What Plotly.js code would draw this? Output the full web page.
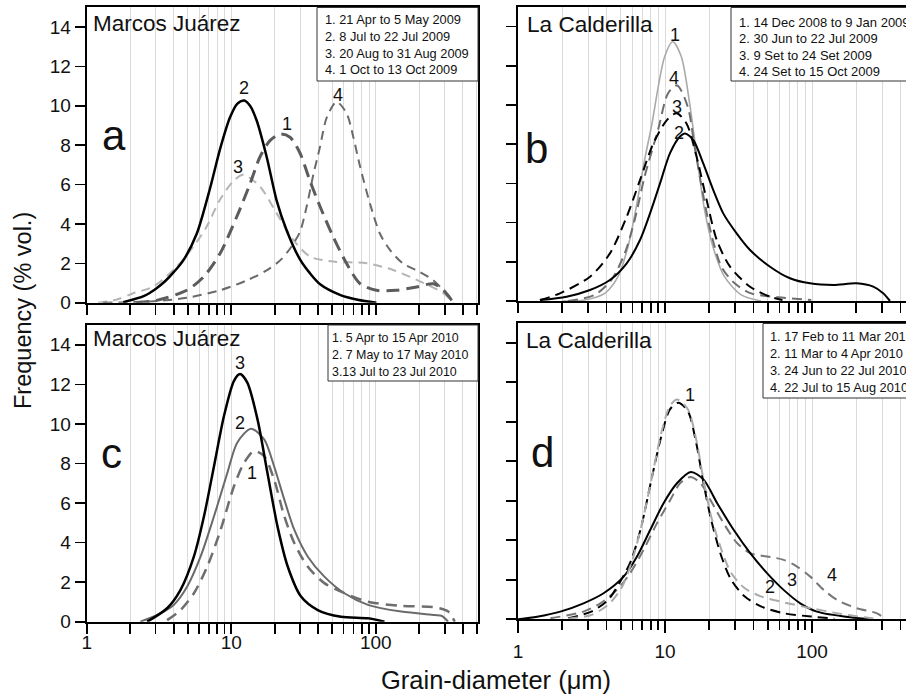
<!DOCTYPE html>
<html>
<head>
<meta charset="utf-8">
<script src="https://cdn.plot.ly/plotly-3.0.1.min.js"></script>
<style>html,body{margin:0;padding:0;overflow:hidden;background:#fff}#chart{width:906px;height:699px}</style>
</head>
<body>
<div id="chart"></div>
<script>
// ---------- DATA (grain diameter in µm, frequency in % vol.) ----------
// Panel a: Marcos Juárez 2009
const a1_d = [2.2, 3.05, 4.92, 6.42, 8.37, 10.9, 13.5, 15.8, 18.6, 21.8, 25.5, 29.9, 35.0, 41.1, 50.9, 63, 78, 101, 139, 192, 251, 294, 345];
const a1_f = [0, 0.12, 0.63, 1.3, 2.5, 4.35, 6.04, 7.4, 8.24, 8.56, 8.4, 7.6, 6.2, 4.9, 3.33, 1.98, 0.96, 0.63, 0.63, 0.8, 0.96, 0.63, 0];
const a2_d = [1.79, 2.5, 3.0, 3.5, 4.0, 4.66, 5.77, 7.13, 8.37, 9.8, 11.0, 12.3, 13.5, 15.0, 17.6, 20.6, 24.2, 29.9, 35, 41, 56.5, 75, 101];
const a2_f = [0.03, 0.35, 0.7, 1.1, 1.55, 2.15, 3.5, 5.8, 7.8, 9.4, 10.1, 10.27, 10.0, 9.25, 7.4, 5.2, 3.67, 2.2, 1.5, 0.95, 0.4, 0.15, 0];
const a3_d = [1.2, 1.6, 2.1, 2.89, 4.2, 5.47, 6.77, 8.36, 10.3, 12.1, 15.8, 20.6, 26.9, 35.1, 50.9, 86.7, 132, 192, 294, 343];
const a3_f = [0, 0.15, 0.48, 0.82, 1.83, 2.85, 3.87, 5.23, 6.16, 6.5, 5.9, 4.55, 3.19, 2.34, 2.09, 2.0, 1.66, 1.16, 0.48, 0];
const a4_d = [1.3, 2.89, 4.92, 8.37, 12.8, 17.6, 21.8, 25.5, 29.9, 33.3, 37, 41.1, 45.9, 53.6, 63, 70, 78, 91.5, 107, 126, 155, 202, 251, 294, 345];
const a4_f = [0, 0.07, 0.25, 0.63, 1.13, 1.64, 2.15, 2.74, 3.6, 4.9, 6.5, 7.9, 9.42, 10.2, 9.6, 8.4, 6.9, 5.0, 3.5, 2.66, 1.98, 1.56, 1.13, 0.63, 0];

// Panel b: La Calderilla 2008-2009
const b1_d = [2.0, 2.84, 3.89, 4.79, 5.6, 6.38, 7.26, 8.08, 9.95, 11.3, 12.9, 14.7, 16.7, 18.6, 21.2, 25.4, 33, 45];
const b1_f = [0, 0.05, 0.39, 1.24, 2.77, 4.81, 7.19, 8.9, 12.47, 13.23, 12.47, 10.1, 7.02, 4.64, 2.77, 1.24, 0.31, 0];
const b2_d = [1.41, 2.14, 3.09, 4.22, 5.49, 6.76, 7.91, 9.25, 10.8, 12.6, 13.7, 15.6, 18.2, 21.3, 24.9, 30.7, 37.9, 51.8, 70.8, 96.9, 140, 201, 261, 305, 339];
const b2_f = [0.05, 0.22, 0.56, 1.07, 1.92, 3.11, 4.47, 6.0, 7.53, 8.38, 8.55, 8.21, 7.02, 5.66, 4.47, 3.45, 2.6, 1.75, 1.16, 0.9, 0.82, 0.9, 0.73, 0.39, 0];
const b3_d = [1.41, 1.93, 3.09, 4.22, 5.49, 6.76, 8.33, 10.3, 12.0, 14.0, 16.4, 19.2, 22.5, 27.7, 37.9, 51.8, 63];
const b3_f = [0.05, 0.39, 1.24, 2.43, 4.3, 6.17, 8.04, 9.23, 9.58, 9.06, 7.36, 5.15, 3.11, 1.75, 0.73, 0.22, 0.05];
const b4_d = [2.19, 3.32, 4.31, 5.32, 6.22, 7.26, 8.96, 10.5, 12.1, 14.3, 15.9, 18.1, 20.6, 24.2, 29.8, 38.6, 58.7, 98.9];
const b4_f = [0, 0.31, 1.07, 2.43, 4.13, 6.34, 8.72, 10.6, 11.0, 9.9, 7.87, 5.49, 3.45, 1.75, 0.9, 0.39, 0.19, 0.05];

// Panel c: Marcos Juárez 2010
const c1_d = [3.6, 4.46, 5.52, 6.83, 8.45, 10.45, 12.3, 14.4, 16.9, 19.8, 23.3, 27.3, 33.8, 44.1, 60.7, 88.3, 150, 256, 317, 352];
const c1_f = [0.08, 0.59, 1.44, 2.79, 4.65, 6.85, 8.04, 8.63, 8.37, 7.19, 5.33, 3.98, 2.79, 1.95, 1.44, 1.01, 0.8, 0.73, 0.51, 0];
const c2_d = [2.35, 3.07, 4.0, 4.96, 6.14, 7.6, 9.41, 11.0, 13.7, 16.9, 19.8, 23.3, 27.3, 33.8, 44.1, 60.7, 88.3, 150, 256, 285, 317];
const c2_f = [0, 0.34, 0.85, 1.78, 3.3, 5.33, 7.53, 9.05, 9.76, 9.22, 7.86, 6.17, 4.65, 3.3, 2.28, 1.44, 0.85, 0.51, 0.34, 0.3, 0];
const c3_d = [2.62, 3.6, 4.46, 5.52, 6.48, 7.6, 8.91, 10.45, 11.5, 12.9, 15.2, 17.8, 20.9, 24.6, 30.4, 39.7, 57.6, 88.3, 115];
const c3_f = [0, 0.68, 1.61, 3.3, 5.33, 7.86, 10.4, 12.18, 12.52, 12.1, 10.23, 7.53, 4.82, 2.79, 1.27, 0.59, 0.25, 0.17, 0];

// Panel d: La Calderilla 2010
const d1_d = [2.19, 3.15, 4.1, 5.04, 5.9, 6.9, 8.08, 9.44, 10.8, 12.1, 14.3, 16.3, 18.1, 20.6, 24.2, 28.2, 34.9, 45.3, 65, 98.6, 150, 228, 282];
const d1_f = [0.03, 0.22, 0.73, 1.57, 2.84, 4.7, 7.07, 9.44, 10.8, 11.13, 10.63, 9.1, 7.24, 5.21, 3.52, 2.34, 1.57, 1.15, 0.85, 0.56, 0.3, 0.1, 0];
const d2_d = [2.19, 3.15, 4.1, 5.04, 5.9, 6.9, 8.08, 9.44, 10.8, 12.3, 14.3, 16.3, 18.1, 20.6, 24.2, 28.2, 34.9, 45.3, 65, 98.6, 142];
const d2_f = [0.05, 0.39, 0.98, 2.0, 3.0, 4.7, 7.07, 9.27, 10.63, 10.96, 10.54, 8.93, 7.07, 5.04, 3.18, 2.0, 1.15, 0.64, 0.3, 0.14, 0.03];
const d3_d = [1.0, 1.35, 1.94, 2.79, 3.82, 5.23, 6.45, 7.94, 9.8, 12.1, 15.0, 18.3, 22.6, 29.3, 38.0, 49.4, 64.1, 83.2, 108, 182, 260];
const d3_f = [0, 0.13, 0.39, 0.81, 1.32, 2.16, 3.18, 4.53, 5.89, 6.9, 7.46, 7.07, 5.89, 4.53, 3.35, 2.34, 1.49, 0.81, 0.39, 0.1, 0];
const d4_d = [1.66, 2.79, 3.63, 4.71, 5.8, 7.15, 8.83, 10.9, 12.7, 14.9, 17.4, 20.3, 25.0, 30.9, 38.0, 49.4, 64.1, 79, 97.3, 120, 148, 202, 277, 310];
const d4_f = [0.05, 0.39, 0.81, 1.49, 2.34, 3.52, 4.87, 6.06, 6.9, 7.2, 6.9, 6.06, 4.87, 3.86, 3.35, 3.18, 3.01, 2.67, 2.16, 1.49, 0.98, 0.56, 0.3, 0.05];

// Tick labels
const yTicks = [0, 2, 4, 6, 8, 10, 12, 14];
const xMajor = [1, 10, 100];
const xMajorText = ['1', '10', '100'];
const xMinor = [2, 3, 4, 5, 6, 7, 8, 9, 20, 30, 40, 50, 60, 70, 80, 90, 200, 300, 400, 500];

// Legend texts
const legA = ['1. 21 Apr to 5 May 2009', '2. 8 Jul to 22 Jul 2009', '3. 20 Aug to 31 Aug 2009', '4. 1 Oct to 13 Oct 2009'];
const legB = ['1. 14 Dec 2008 to 9 Jan 2009', '2. 30 Jun to 22 Jul 2009', '3. 9 Set to 24 Set 2009', '4. 24 Set to 15 Oct 2009'];
const legC = ['1. 5 Apr to 15 Apr 2010', '2. 7 May to 17 May 2010', '3.13 Jul to 23 Jul 2010'];
const legD = ['1. 17 Feb to 11 Mar 2010', '2. 11 Mar to 4 Apr 2010', '3. 24 Jun to 22 Jul 2010', '4. 22 Jul to 15 Aug 2010'];

// ---------- BUILD ----------
const W = 906, H = 699;
const FONT = 'Liberation Sans, Arial, Helvetica, sans-serif';
const px = v => v / W;
const py = v => 1 - v / H;

function tr(d, f, ax, color, width, dash) {
  return {x: d, y: f, xaxis: 'x' + ax, yaxis: 'y' + ax, type: 'scatter', mode: 'lines',
    line: {color: color, width: width, dash: dash || 'solid', shape: 'spline', smoothing: 0.8},
    hoverinfo: 'skip', showlegend: false};
}

const traces = [
  tr(a3_d, a3_f, '', '#b4b4b4', 2, '9px,6px'),
  tr(a4_d, a4_f, '', '#6a6a6a', 2, '9px,6px'),
  tr(a1_d, a1_f, '', '#5c5c5c', 3, '13px,7px'),
  tr(a2_d, a2_f, '', '#000000', 2.5),
  tr(b1_d, b1_f, '2', '#aaaaaa', 1.6),
  tr(b4_d, b4_f, '2', '#6e6e6e', 2, '10px,6px'),
  tr(b3_d, b3_f, '2', '#000000', 2, '10px,6px'),
  tr(b2_d, b2_f, '2', '#000000', 2),
  tr(c2_d, c2_f, '3', '#6a6a6a', 2),
  tr(c1_d, c1_f, '3', '#6e6e6e', 2.5, '11px,7px'),
  tr(c3_d, c3_f, '3', '#000000', 2.5),
  tr(d4_d, d4_f, '4', '#777777', 2, '10px,6px'),
  tr(d3_d, d3_f, '4', '#000000', 2),
  tr(d2_d, d2_f, '4', '#000000', 2, '10px,6px'),
  tr(d1_d, d1_f, '4', '#aaaaaa', 2, '10px,6px')
];

function xax(domain, range, labels, anchor, standoff, majLen, minLen) {
  return {type: 'log', range: range, domain: domain, anchor: anchor,
    tickmode: 'array', tickvals: xMajor, ticktext: xMajorText, showticklabels: labels,
    ticks: 'outside', ticklen: majLen, tickwidth: 1.6, tickcolor: '#000',
    ticklabelstandoff: standoff,
    tickfont: {family: FONT, size: 19, color: '#111'},
    showline: true, linewidth: 2, linecolor: '#000', mirror: true,
    showgrid: true, gridcolor: '#dadada', gridwidth: 1, zeroline: false,
    minor: {tickmode: 'array', tickvals: xMinor, ticks: 'outside', ticklen: minLen, tickwidth: 1.6, tickcolor: '#000',
      showgrid: true, gridcolor: '#dadada', gridwidth: 1}};
}
function yax(domain, labels, anchor, mirror) {
  return {range: [0, 15], domain: domain, anchor: anchor,
    tickmode: 'array', tickvals: yTicks, showticklabels: labels,
    ticks: 'outside', ticklen: 10, tickwidth: 1.6, tickcolor: '#000',
    tickfont: {family: FONT, size: 19, color: '#111'},
    showline: true, linewidth: 2, linecolor: '#000', mirror: mirror,
    showgrid: false, zeroline: false};
}

const leftDom = [86.7 / W, 478 / W];
const rightDom = [518 / W, 1];
const leftRange = [0, Math.log10(510)];
const rightRange = [0, 388 / 147];

const ann = [];
const shapes = [];
function txt(x, y, s, size, anchor, extra) {
  ann.push(Object.assign({xref: 'paper', yref: 'paper', x: px(x), y: py(y), text: s, showarrow: false,
    xanchor: anchor || 'left', yanchor: 'middle', font: {family: FONT, size: size, color: '#111'}}, extra || {}));
}
function lab(ax, d, f, s) {
  ann.push({xref: 'x' + ax, yref: 'y' + ax, x: Math.log10(d), y: f, text: s, showarrow: false,
    xanchor: 'center', yanchor: 'middle', font: {family: FONT, size: 18, color: '#111'}});
}
function legend(x0, y0, x1, y1, tx, ys, lines, size) {
  shapes.push({type: 'rect', xref: 'paper', yref: 'paper', x0: px(x0), x1: px(x1), y0: py(y1), y1: py(y0),
    fillcolor: '#ffffff', line: {color: '#333', width: 1}, layer: 'above'});
  lines.forEach((s, i) => txt(tx, ys[i], s, size, 'left'));
}

// site names & panel letters
txt(91, 23.5, 'Marcos Juárez', 22.5);
txt(91, 338.5, 'Marcos Juárez', 22.5);
txt(525, 25, 'La Calderilla', 22.6);
txt(524, 341, 'La Calderilla', 22.6);
txt(100, 135, 'a', 42);
txt(523, 148, 'b', 42);
txt(99, 454, 'c', 42);
txt(529, 452, 'd', 42);

// legends
legend(317, 7.5, 478, 81, 323, [20, 36.5, 53, 69.5], legA, 12.8);
legend(731, 7.5, 930, 81, 737, [22.5, 38.8, 55.2, 71.6], legB, 13);
legend(328, 325, 478, 381, 330, [337.5, 354.5, 371.5], legC, 12.4);
legend(763, 323.5, 930, 398, 768, [336.8, 353.5, 370.5, 387.3], legD, 12.8);

// curve labels
lab('', 12.3, 10.9, '2'); lab('', 24.2, 9.05, '1'); lab('', 11.2, 6.9, '3'); lab('', 54.6, 10.57, '4');
lab('2', 11.75, 13.57, '1'); lab('2', 11.5, 11.36, '4'); lab('2', 12.0, 9.88, '3'); lab('2', 12.5, 8.55, '2');
lab('3', 11.5, 13.1, '3'); lab('3', 11.5, 10.03, '2'); lab('3', 14.0, 7.53, '1');
lab('4', 14.7, 11.33, '1'); lab('4', 52, 1.62, '2'); lab('4', 73.1, 2.0, '3'); lab('4', 137, 2.25, '4');

// axis titles
txt(23, 311, 'Frequency (% vol.)', 23.5, 'center', {textangle: -90});
txt(496, 680, 'Grain-diameter (μm)', 25.5, 'center');

const layout = {
  width: W, height: H, margin: {l: 0, r: 0, t: 0, b: 0},
  paper_bgcolor: '#fff', plot_bgcolor: '#fff', showlegend: false,
  xaxis: xax(leftDom, leftRange, false, 'y', 0, 10, 10),
  yaxis: yax([1 - 302.7 / H, 1 - 7.3 / H], true, 'x', true),
  xaxis2: xax(rightDom, rightRange, false, 'y2', 0, 10, 10),
  yaxis2: yax([1 - 301 / H, 1 - 7 / H], false, 'x2', false),
  xaxis3: xax(leftDom, leftRange, true, 'y3', -8, 10, 10),
  yaxis3: yax([1 - 621.7 / H, 1 - 325 / H], true, 'x3', true),
  xaxis4: xax(rightDom, rightRange, true, 'y4', 2, 12, 9),
  yaxis4: yax([1 - 619.3 / H, 1 - 323 / H], false, 'x4', false),
  annotations: ann, shapes: shapes
};

Plotly.newPlot('chart', traces, layout, {displayModeBar: false, staticPlot: true});
</script>
</body>
</html>
